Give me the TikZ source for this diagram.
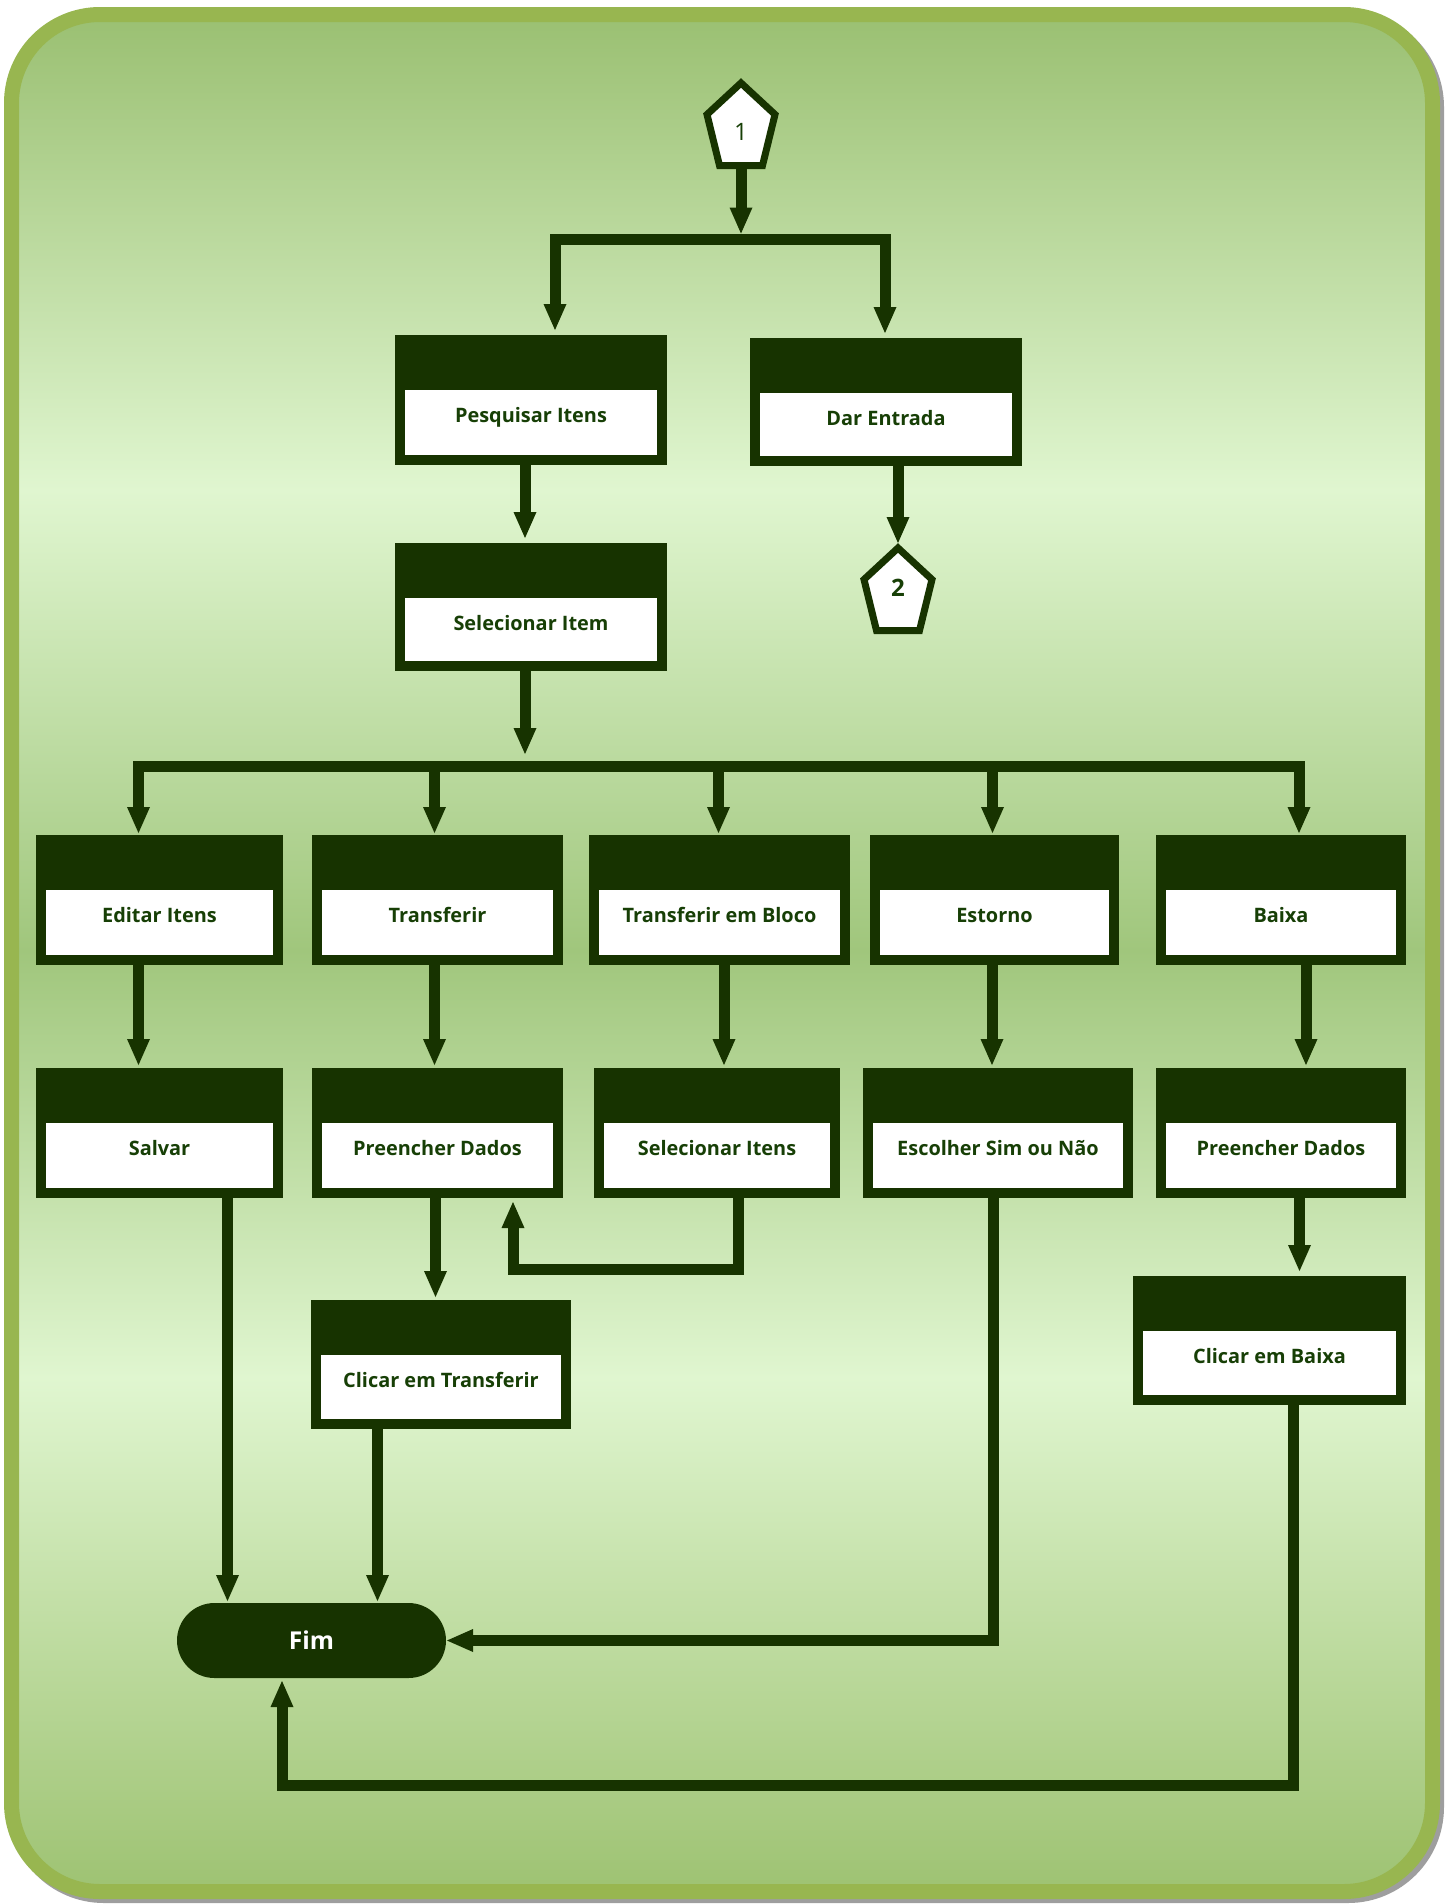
\documentclass[tikz,border=0pt]{standalone}
\usepackage{fontspec}
\setmainfont{Open Sans}
\usetikzlibrary{arrows.meta,calc}
\definecolor{dark}{HTML}{173300}
\definecolor{txtg}{HTML}{173F06}
\definecolor{framegreen}{HTML}{98B650}
\definecolor{bgA}{HTML}{98BE6F}
\definecolor{bgL}{HTML}{E0F6D0}
\definecolor{bgB}{HTML}{A0C67C}
\definecolor{bgC}{HTML}{9CC170}
\newcommand{\flowbox}[6]{%
  \pgfmathsetmacro{\fbw}{#4-#2}%
  \pgfmathsetmacro{\fbh}{#5-#3}%
  \pgfmathsetmacro{\fbd}{#5-#3-87}%
  \pgfmathsetmacro{\fbx}{(#2+#4)/2}%
  \node[fbox, minimum width=\fbw pt, minimum height=\fbh pt, text depth=\fbd pt] (#1) at (\fbx,#3) {#6};}
\begin{document}
\begin{tikzpicture}[x=1pt,y=-1pt,
  fbox/.style={fill=dark, draw=none, inner sep=0pt, outer sep=0pt, text height=87pt,
    font=\bfseries\fontsize{19.9}{23}\selectfont, text=txtg, anchor=north,
    path picture={\fill[white] ([shift={(10pt,10pt)}]path picture bounding box.south west)
      rectangle ([shift={(-10pt,-55pt)}]path picture bounding box.north east);}},
  arr/.style={draw=dark, line width=11pt, -{Triangle[width=23pt,length=26pt,line width=0pt]}},
  pent/.style={draw=dark, fill=white, line width=7pt, line join=miter},
  pentlbl/.style={text=txtg, inner sep=0pt, font=\fontsize{24}{28}\selectfont},
  fimstyle/.style={fill=dark, rounded corners=37.5pt, minimum width=269pt, minimum height=75pt,
    inner sep=0pt, outer sep=0pt, text=white, font=\bfseries\fontsize{24.6}{28}\selectfont}]
\useasboundingbox (0,0) rectangle (1446,1904);
% background
\fill[black!38, rounded corners=96pt] (8,11) rectangle (1444,1903);
\begin{scope}
\clip[rounded corners=88.5pt] (11.5,14.5) rectangle (1432.5,1891.5);
\shade[top color=bgA, bottom color=bgL] (0,0) rectangle (1446,491);
\shade[top color=bgL, bottom color=bgB] (0,490) rectangle (1446,951);
\shade[top color=bgB, bottom color=bgL] (0,950) rectangle (1446,1378);
\shade[top color=bgL, bottom color=bgC] (0,1377) rectangle (1446,1904);
\end{scope}
\draw[line width=15pt, draw=framegreen, rounded corners=88.5pt] (11.5,14.5) rectangle (1432.5,1891.5);

% pentagons
\coordinate (p1n) at (741,78);
\coordinate (p1s) at (741,169);
\coordinate (p2n) at (898,543);
\draw[pent, shift={(p1n)}] (0,5) -- (34,36.5) -- (21.5,87.5) -- (-21.5,87.5) -- (-34,36.5) -- cycle;
\node[pentlbl] (p1) at (741,132) {1};
\draw[pent, shift={(p2n)}] (0,5) -- (34,36.5) -- (21.5,87.5) -- (-21.5,87.5) -- (-34,36.5) -- cycle;
\node[pentlbl, font=\bfseries\fontsize{24}{28}\selectfont] (p2) at (898,588) {2};

% boxes
\flowbox{pesq}{395}{335}{667}{465}{Pesquisar Itens}
\flowbox{dar}{750}{338}{1022}{466}{Dar Entrada}
\flowbox{sel}{395}{543}{667}{671}{Selecionar Item}
\flowbox{edit}{36}{835}{283}{965}{Editar Itens}
\flowbox{transf}{312}{835}{563}{965}{Transferir}
\flowbox{bloco}{589}{835}{850}{965}{Transferir em Bloco}
\flowbox{estorno}{870}{835}{1119}{965}{Estorno}
\flowbox{baixa}{1156}{835}{1406}{965}{Baixa}
\flowbox{salvar}{36}{1068}{283}{1198}{Salvar}
\flowbox{prea}{312}{1068}{563}{1198}{Preencher Dados}
\flowbox{selit}{594}{1068}{840}{1198}{Selecionar Itens}
\flowbox{escolher}{863}{1068}{1133}{1198}{Escolher Sim ou Não}
\flowbox{preb}{1156}{1068}{1406}{1198}{Preencher Dados}
\flowbox{clictr}{311}{1300}{571}{1429}{Clicar em Transferir}
\flowbox{clicbx}{1133}{1276}{1406}{1405}{Clicar em Baixa}
\node[fimstyle] (fim) at (311.5,1640.5) {Fim};

% connectors
\coordinate (j1) at (741,239);
\draw[arr, shorten >=5.5pt] (p1s) -- (j1);
\draw[arr, shorten >=5pt] (j1) -| ($(pesq.north)+(24,0)$);
\draw[arr, shorten >=5pt] (j1) -| ($(dar.north)+(-1,0)$);
\draw[arr, shorten >=5pt] ($(pesq.south)+(-6,0)$) coordinate (a1) -- (a1 |- sel.north);
\draw[arr] ($(dar.south)+(12,0)$) -- (p2n);
\coordinate (j2) at (525,766);
\draw[arr, shorten >=12pt] ($(sel.south)+(-6,0)$) -- (j2);
\draw[arr, shorten >=2pt] (j2) -| ($(edit.north)+(-21,0)$);
\draw[arr, shorten >=2pt] (j2) -| ($(transf.north)+(-3,0)$);
\draw[arr, shorten >=2pt] (j2) -| ($(bloco.north)+(-1,0)$);
\draw[arr, shorten >=2pt] (j2) -| ($(estorno.north)+(-2,0)$);
\draw[arr, shorten >=2pt] (j2) -| ($(baixa.north)+(18,0)$);
\draw[arr, shorten >=3pt] ($(edit.south)+(-21,0)$) coordinate (b1) -- (b1 |- salvar.north);
\draw[arr, shorten >=3pt] ($(transf.south)+(-3,0)$) coordinate (b2) -- (b2 |- prea.north);
\draw[arr, shorten >=3pt] ($(bloco.south)+(4.5,0)$) coordinate (b3) -- (b3 |- selit.north);
\draw[arr, shorten >=3pt] ($(estorno.south)+(-2.5,0)$) coordinate (b4) -- (b4 |- escolher.north);
\draw[arr, shorten >=3pt] ($(baixa.south)+(25,0)$) coordinate (b5) -- (b5 |- preb.north);
\draw[arr, shorten >=3pt] ($(prea.south)+(-2,0)$) coordinate (c1) -- (c1 |- clictr.north);
\draw[arr, shorten >=4pt] ($(selit.south)+(21,0)$) -- ++(0,71) -| ($(prea.south)+(75.5,0)$);
\draw[arr, shorten >=5pt] ($(preb.south)+(18.5,0)$) coordinate (c2) -- (c2 |- clicbx.north);
\draw[arr, shorten >=2pt] ($(salvar.south)+(68,0)$) coordinate (e1) -- (e1 |- fim.north);
\draw[arr, shorten >=2pt] ($(clictr.south)+(-63.5,0)$) coordinate (e2) -- (e2 |- fim.north);
\draw[arr, shorten >=1pt] ($(escolher.south)+(-5,0)$) |- (fim.east);
\draw[arr, shorten >=3pt] ($(clicbx.south)+(24,0)$) -- ++(0,380.5) -| ($(fim.south)+(-29.5,0)$);
\end{tikzpicture}
\end{document}
